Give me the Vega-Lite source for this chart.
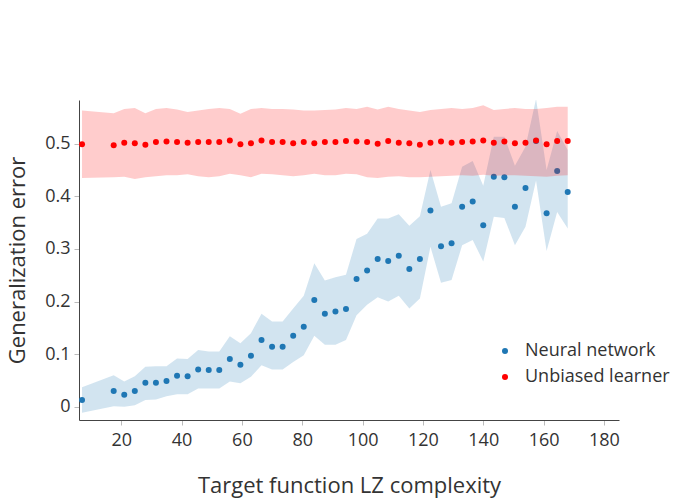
{
  "$schema": "https://vega.github.io/schema/vega-lite/v6.json",
  "width": 540,
  "height": 320,
  "autosize": {"type": "none"},
  "padding": {"left": 79, "top": 100, "right": 81, "bottom": 80},
  "background": "white",
  "config": {
    "font": "Open Sans",
    "view": {"stroke": null},
    "axis": {
      "grid": false,
      "domainColor": "#444",
      "tickColor": "#bbb",
      "tickSize": 5,
      "labelColor": "#333",
      "titleColor": "#333",
      "labelFontSize": 18,
      "titleFontSize": 22,
      "titleFontWeight": "normal",
      "labelFont": "Open Sans",
      "titleFont": "Open Sans"
    },
    "legend": {
      "labelFont": "Open Sans",
      "labelFontSize": 18,
      "labelColor": "#333"
    }
  },
  "datasets": {
    "runs": [
      {"lz": 7, "learner": "Neural network", "error": 0.013, "lo": -0.011, "hi": 0.037},
      {"lz": 17.5, "learner": "Neural network", "error": 0.030, "lo": 0.001, "hi": 0.060},
      {"lz": 21, "learner": "Neural network", "error": 0.023, "lo": 0.000, "hi": 0.048},
      {"lz": 24.5, "learner": "Neural network", "error": 0.030, "lo": 0.003, "hi": 0.058},
      {"lz": 28, "learner": "Neural network", "error": 0.046, "lo": 0.013, "hi": 0.076},
      {"lz": 31.5, "learner": "Neural network", "error": 0.046, "lo": 0.014, "hi": 0.077},
      {"lz": 35, "learner": "Neural network", "error": 0.049, "lo": 0.020, "hi": 0.077},
      {"lz": 38.5, "learner": "Neural network", "error": 0.059, "lo": 0.024, "hi": 0.092},
      {"lz": 42, "learner": "Neural network", "error": 0.058, "lo": 0.024, "hi": 0.091},
      {"lz": 45.5, "learner": "Neural network", "error": 0.071, "lo": 0.035, "hi": 0.108},
      {"lz": 49, "learner": "Neural network", "error": 0.070, "lo": 0.035, "hi": 0.105},
      {"lz": 52.5, "learner": "Neural network", "error": 0.070, "lo": 0.035, "hi": 0.105},
      {"lz": 56, "learner": "Neural network", "error": 0.091, "lo": 0.048, "hi": 0.134},
      {"lz": 59.5, "learner": "Neural network", "error": 0.080, "lo": 0.045, "hi": 0.121},
      {"lz": 63, "learner": "Neural network", "error": 0.097, "lo": 0.057, "hi": 0.140},
      {"lz": 66.5, "learner": "Neural network", "error": 0.127, "lo": 0.079, "hi": 0.177},
      {"lz": 70, "learner": "Neural network", "error": 0.114, "lo": 0.071, "hi": 0.162},
      {"lz": 73.5, "learner": "Neural network", "error": 0.114, "lo": 0.071, "hi": 0.162},
      {"lz": 77, "learner": "Neural network", "error": 0.135, "lo": 0.085, "hi": 0.187},
      {"lz": 80.5, "learner": "Neural network", "error": 0.152, "lo": 0.098, "hi": 0.211},
      {"lz": 84, "learner": "Neural network", "error": 0.203, "lo": 0.135, "hi": 0.273},
      {"lz": 87.5, "learner": "Neural network", "error": 0.177, "lo": 0.118, "hi": 0.240},
      {"lz": 91, "learner": "Neural network", "error": 0.181, "lo": 0.118, "hi": 0.246},
      {"lz": 94.5, "learner": "Neural network", "error": 0.186, "lo": 0.127, "hi": 0.251},
      {"lz": 98, "learner": "Neural network", "error": 0.243, "lo": 0.174, "hi": 0.319},
      {"lz": 101.5, "learner": "Neural network", "error": 0.259, "lo": 0.194, "hi": 0.329},
      {"lz": 105, "learner": "Neural network", "error": 0.281, "lo": 0.208, "hi": 0.358},
      {"lz": 108.5, "learner": "Neural network", "error": 0.277, "lo": 0.200, "hi": 0.358},
      {"lz": 112, "learner": "Neural network", "error": 0.287, "lo": 0.211, "hi": 0.366},
      {"lz": 115.5, "learner": "Neural network", "error": 0.262, "lo": 0.187, "hi": 0.344},
      {"lz": 119, "learner": "Neural network", "error": 0.281, "lo": 0.206, "hi": 0.362},
      {"lz": 122.5, "learner": "Neural network", "error": 0.373, "lo": 0.304, "hi": 0.450},
      {"lz": 126, "learner": "Neural network", "error": 0.305, "lo": 0.236, "hi": 0.380},
      {"lz": 129.5, "learner": "Neural network", "error": 0.311, "lo": 0.241, "hi": 0.387},
      {"lz": 133, "learner": "Neural network", "error": 0.380, "lo": 0.307, "hi": 0.456},
      {"lz": 136.5, "learner": "Neural network", "error": 0.390, "lo": 0.317, "hi": 0.467},
      {"lz": 140, "learner": "Neural network", "error": 0.345, "lo": 0.276, "hi": 0.420},
      {"lz": 143.5, "learner": "Neural network", "error": 0.437, "lo": 0.361, "hi": 0.513},
      {"lz": 147, "learner": "Neural network", "error": 0.436, "lo": 0.359, "hi": 0.513},
      {"lz": 150.5, "learner": "Neural network", "error": 0.380, "lo": 0.307, "hi": 0.458},
      {"lz": 154, "learner": "Neural network", "error": 0.416, "lo": 0.342, "hi": 0.494},
      {"lz": 157.5, "learner": "Neural network", "error": 0.505, "lo": 0.430, "hi": 0.585},
      {"lz": 161, "learner": "Neural network", "error": 0.368, "lo": 0.296, "hi": 0.450},
      {"lz": 164.5, "learner": "Neural network", "error": 0.448, "lo": 0.370, "hi": 0.524},
      {"lz": 168, "learner": "Neural network", "error": 0.408, "lo": 0.339, "hi": 0.488},
      {"lz": 7, "learner": "Unbiased learner", "error": 0.499, "lo": 0.435, "hi": 0.563},
      {"lz": 17.5, "learner": "Unbiased learner", "error": 0.497, "lo": 0.436, "hi": 0.558},
      {"lz": 21, "learner": "Unbiased learner", "error": 0.502, "lo": 0.437, "hi": 0.566},
      {"lz": 24.5, "learner": "Unbiased learner", "error": 0.501, "lo": 0.433, "hi": 0.568},
      {"lz": 28, "learner": "Unbiased learner", "error": 0.498, "lo": 0.436, "hi": 0.558},
      {"lz": 31.5, "learner": "Unbiased learner", "error": 0.503, "lo": 0.438, "hi": 0.566},
      {"lz": 35, "learner": "Unbiased learner", "error": 0.504, "lo": 0.440, "hi": 0.568},
      {"lz": 38.5, "learner": "Unbiased learner", "error": 0.503, "lo": 0.440, "hi": 0.565},
      {"lz": 42, "learner": "Unbiased learner", "error": 0.502, "lo": 0.442, "hi": 0.560},
      {"lz": 45.5, "learner": "Unbiased learner", "error": 0.503, "lo": 0.438, "hi": 0.563},
      {"lz": 49, "learner": "Unbiased learner", "error": 0.503, "lo": 0.436, "hi": 0.566},
      {"lz": 52.5, "learner": "Unbiased learner", "error": 0.503, "lo": 0.438, "hi": 0.568},
      {"lz": 56, "learner": "Unbiased learner", "error": 0.506, "lo": 0.443, "hi": 0.566},
      {"lz": 59.5, "learner": "Unbiased learner", "error": 0.499, "lo": 0.440, "hi": 0.557},
      {"lz": 63, "learner": "Unbiased learner", "error": 0.501, "lo": 0.436, "hi": 0.566},
      {"lz": 66.5, "learner": "Unbiased learner", "error": 0.506, "lo": 0.443, "hi": 0.568},
      {"lz": 70, "learner": "Unbiased learner", "error": 0.503, "lo": 0.442, "hi": 0.566},
      {"lz": 73.5, "learner": "Unbiased learner", "error": 0.503, "lo": 0.440, "hi": 0.566},
      {"lz": 77, "learner": "Unbiased learner", "error": 0.501, "lo": 0.438, "hi": 0.565},
      {"lz": 80.5, "learner": "Unbiased learner", "error": 0.503, "lo": 0.440, "hi": 0.563},
      {"lz": 84, "learner": "Unbiased learner", "error": 0.501, "lo": 0.443, "hi": 0.563},
      {"lz": 87.5, "learner": "Unbiased learner", "error": 0.503, "lo": 0.440, "hi": 0.564},
      {"lz": 91, "learner": "Unbiased learner", "error": 0.503, "lo": 0.440, "hi": 0.565},
      {"lz": 94.5, "learner": "Unbiased learner", "error": 0.505, "lo": 0.443, "hi": 0.568},
      {"lz": 98, "learner": "Unbiased learner", "error": 0.504, "lo": 0.442, "hi": 0.566},
      {"lz": 101.5, "learner": "Unbiased learner", "error": 0.503, "lo": 0.436, "hi": 0.570},
      {"lz": 105, "learner": "Unbiased learner", "error": 0.500, "lo": 0.435, "hi": 0.565},
      {"lz": 108.5, "learner": "Unbiased learner", "error": 0.505, "lo": 0.437, "hi": 0.570},
      {"lz": 112, "learner": "Unbiased learner", "error": 0.502, "lo": 0.438, "hi": 0.566},
      {"lz": 115.5, "learner": "Unbiased learner", "error": 0.501, "lo": 0.436, "hi": 0.563},
      {"lz": 119, "learner": "Unbiased learner", "error": 0.498, "lo": 0.436, "hi": 0.560},
      {"lz": 122.5, "learner": "Unbiased learner", "error": 0.502, "lo": 0.437, "hi": 0.564},
      {"lz": 126, "learner": "Unbiased learner", "error": 0.504, "lo": 0.438, "hi": 0.566},
      {"lz": 129.5, "learner": "Unbiased learner", "error": 0.502, "lo": 0.439, "hi": 0.568},
      {"lz": 133, "learner": "Unbiased learner", "error": 0.503, "lo": 0.440, "hi": 0.566},
      {"lz": 136.5, "learner": "Unbiased learner", "error": 0.504, "lo": 0.439, "hi": 0.568},
      {"lz": 140, "learner": "Unbiased learner", "error": 0.506, "lo": 0.441, "hi": 0.573},
      {"lz": 143.5, "learner": "Unbiased learner", "error": 0.502, "lo": 0.439, "hi": 0.564},
      {"lz": 147, "learner": "Unbiased learner", "error": 0.504, "lo": 0.440, "hi": 0.566},
      {"lz": 150.5, "learner": "Unbiased learner", "error": 0.501, "lo": 0.440, "hi": 0.568},
      {"lz": 154, "learner": "Unbiased learner", "error": 0.502, "lo": 0.439, "hi": 0.566},
      {"lz": 157.5, "learner": "Unbiased learner", "error": 0.506, "lo": 0.438, "hi": 0.566},
      {"lz": 161, "learner": "Unbiased learner", "error": 0.499, "lo": 0.437, "hi": 0.568},
      {"lz": 164.5, "learner": "Unbiased learner", "error": 0.505, "lo": 0.439, "hi": 0.570},
      {"lz": 168, "learner": "Unbiased learner", "error": 0.505, "lo": 0.440, "hi": 0.570}
    ]
  },
  "data": {"name": "runs"},
  "encoding": {
    "x": {
      "field": "lz",
      "type": "quantitative",
      "title": "Target function LZ complexity",
      "scale": {"domain": [6, 185], "nice": false, "zero": false},
      "axis": {
        "values": [20, 40, 60, 80, 100, 120, 140, 160, 180],
        "labelPadding": 6,
        "titlePadding": 26
      }
    },
    "y": {
      "field": "error",
      "type": "quantitative",
      "title": "Generalization error",
      "scale": {"domain": [-0.025, 0.583], "nice": false, "zero": false},
      "axis": {
        "values": [0, 0.1, 0.2, 0.3, 0.4, 0.5],
        "format": "~g",
        "labelPadding": 4,
        "titlePadding": 15
      }
    }
  },
  "layer": [
    {
      "transform": [{"filter": "datum.learner == 'Neural network'"}],
      "mark": {"type": "area", "color": "#1f77b4", "opacity": 0.2, "clip": true},
      "encoding": {
        "y": {"field": "lo", "type": "quantitative"},
        "y2": {"field": "hi"}
      }
    },
    {
      "transform": [{"filter": "datum.learner == 'Neural network'"}],
      "mark": {"type": "circle", "size": 36, "opacity": 1},
      "encoding": {
        "color": {
          "field": "learner",
          "type": "nominal",
          "title": null,
          "scale": {"domain": ["Neural network", "Unbiased learner"], "range": ["#1f77b4", "#ff0000"]},
          "legend": {
            "orient": "none",
            "legendX": 417,
            "legendY": 242,
            "symbolSize": 36,
            "labelOffset": 11,
            "rowPadding": 8,
            "padding": 0
          }
        }
      }
    },
    {
      "transform": [{"filter": "datum.learner == 'Unbiased learner'"}],
      "mark": {"type": "area", "color": "#ff0000", "opacity": 0.2, "clip": true},
      "encoding": {
        "y": {"field": "lo", "type": "quantitative"},
        "y2": {"field": "hi"}
      }
    },
    {
      "transform": [{"filter": "datum.learner == 'Unbiased learner'"}],
      "mark": {"type": "circle", "size": 36, "opacity": 1},
      "encoding": {
        "color": {"field": "learner", "type": "nominal"}
      }
    }
  ]
}
